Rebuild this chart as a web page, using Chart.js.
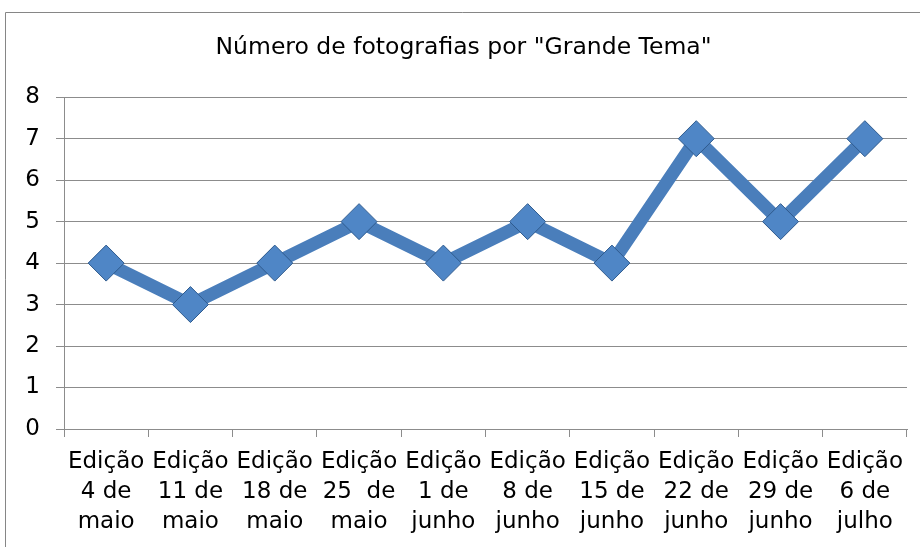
<!DOCTYPE html>
<html>
<head>
<meta charset="utf-8">
<script src="https://cdn.jsdelivr.net/npm/chart.js@4"></script>
<style>
    html, body { margin: 0; padding: 0; background: #fff; overflow: hidden; }
    #wrap { position: absolute; left: 0; top: 0; width: 920px; height: 547px; }
</style>
</head>
<body>
<div id="wrap"><canvas id="myChart"></canvas></div>
<script>
const titleText = 'Número de fotografias por "Grande Tema"';
const categories = [
    ['Edição', '4 de', 'maio'],
    ['Edição', '11 de', 'maio'],
    ['Edição', '18 de', 'maio'],
    ['Edição', '25  de', 'maio'],
    ['Edição', '1 de', 'junho'],
    ['Edição', '8 de', 'junho'],
    ['Edição', '15 de', 'junho'],
    ['Edição', '22 de', 'junho'],
    ['Edição', '29 de', 'junho'],
    ['Edição', '6 de', 'julho']
];
const photoCounts = [4, 3, 4, 5, 4, 5, 4, 7, 5, 7];
const yMin = 0;
const yMax = 8;

const fontFamily = '"DejaVu Sans", sans-serif';
const gridColor = '#8c8c8c';

// outer chart frame (only the left and top edges are inside the picture)
const framePlugin = {
    id: 'frame',
    beforeDraw(chart) {
        const c = chart.ctx;
        c.save();
        c.strokeStyle = '#868686';
        c.lineWidth = 1;
        c.beginPath();
        c.moveTo(5.5, chart.height);
        c.lineTo(5.5, 12.5);
        c.lineTo(chart.width, 12.5);
        c.stroke();
        c.restore();
    }
};

var ctx = document.getElementById("myChart");

new Chart(ctx, {
    type: 'line',
    data: {
        labels: categories,
        datasets: [{
            data: photoCounts,
            borderColor: '#4A7EBB',
            borderWidth: 13,
            pointStyle: 'rectRot',
            pointRadius: 18,
            pointHoverRadius: 18,
            pointBackgroundColor: '#4F86C6',
            pointBorderColor: '#2F5B8E',
            pointBorderWidth: 1,
            tension: 0
        }]
    },
    options: {
        responsive: true,
        maintainAspectRatio: false,
        animation: false,
        devicePixelRatio: 1,
        layout: {
            // big diamonds would otherwise push the plot in from the right
            autoPadding: false,
            padding: { left: 20, right: 13, top: 0, bottom: 0 }
        },
        plugins: {
            legend: { display: false },
            tooltip: { enabled: false },
            title: {
                display: true,
                text: titleText,
                color: '#000',
                font: { family: fontFamily, size: 23.5, weight: 'normal' },
                padding: { top: 34, bottom: 35 }
            }
        },
        scales: {
            x: {
                offset: true,
                grid: {
                    offset: true,
                    drawOnChartArea: false,
                    drawTicks: true,
                    tickLength: 8,
                    color: gridColor
                },
                border: { color: gridColor },
                ticks: {
                    color: '#000',
                    maxRotation: 0,
                    autoSkip: false,
                    padding: 10,
                    font: { family: fontFamily, size: 23, lineHeight: 1.3 }
                },
                afterFit: function (scale) {
                    scale.height = 118;
                    scale.paddingLeft = 0;
                    scale.paddingRight = 0;
                }
            },
            y: {
                min: yMin,
                max: yMax,
                grid: {
                    color: gridColor,
                    tickLength: 8
                },
                border: { color: gridColor },
                ticks: {
                    stepSize: 1,
                    color: '#000',
                    padding: 16,
                    font: { family: fontFamily, size: 23 }
                },
                afterFit: function (scale) { scale.width = 44; }
            }
        }
    },
    plugins: [framePlugin]
});
</script>
</body>
</html>
